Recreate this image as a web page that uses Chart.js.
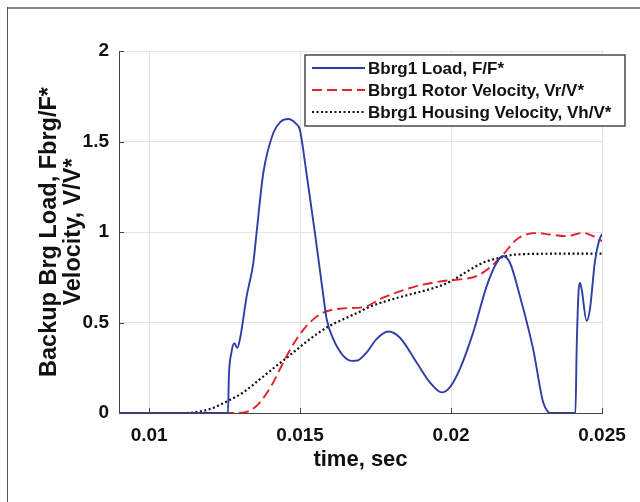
<!DOCTYPE html>
<html>
<head>
<meta charset="utf-8">
<script src="https://cdn.jsdelivr.net/npm/chart.js@4.4.0/dist/chart.umd.min.js"></script>
<style>
  html, body { margin: 0; padding: 0; background: #fff; }
  #wrap { position: relative; width: 640px; height: 502px; }
</style>
</head>
<body>
<div id="wrap"><canvas id="chart" width="640" height="502"></canvas></div>
<script>
// axis ticks
const xTicks = [0.01, 0.015, 0.02, 0.025];
const yTicks = [0, 0.5, 1, 1.5, 2];

const seriesNames = [
  "Bbrg1 Load, F/F*",
  "Bbrg1 Rotor Velocity, Vr/V*",
  "Bbrg1 Housing Velocity, Vh/V*"
];

// Bbrg1 load, F/F*
const loadTime = [0.009, 0.01261, 0.01264, 0.01272, 0.01282, 0.01292, 0.01302, 0.01323, 0.01345, 0.01356,
  0.01378, 0.01411, 0.01436, 0.01461, 0.01485, 0.01499, 0.01521, 0.01549, 0.01577, 0.01588,
  0.0161, 0.01643, 0.01672, 0.0169, 0.0172, 0.01753, 0.01792, 0.0183, 0.01886, 0.0193,
  0.01969, 0.01996, 0.02029, 0.02073, 0.02118, 0.02151, 0.02171, 0.02195, 0.02228, 0.02272,
  0.02305, 0.02322, 0.0233, 0.02412, 0.02416, 0.02422, 0.02427, 0.02433, 0.02449, 0.0246,
  0.02476, 0.0249, 0.025];
const loadValue = [0, 0, 0.2, 0.33, 0.385, 0.36, 0.42, 0.646, 0.83, 1.0,
  1.326, 1.547, 1.61, 1.624, 1.6, 1.565, 1.326, 0.995, 0.646, 0.518,
  0.408, 0.316, 0.288, 0.29, 0.334, 0.408, 0.45, 0.417, 0.279, 0.169,
  0.114, 0.142, 0.242, 0.444, 0.701, 0.83, 0.867, 0.83, 0.646, 0.353,
  0.059, 0.005, 0, 0, 0.35, 0.66, 0.72, 0.68, 0.509, 0.573,
  0.83, 0.95, 0.99];

// Bbrg1 rotor velocity, Vr/V*
const rotorTime = [0.009, 0.0129, 0.01334, 0.01367, 0.01411, 0.01444, 0.01488, 0.01532, 0.01577, 0.01643,
  0.0171, 0.01775, 0.01886, 0.01974, 0.02029, 0.02084, 0.02128, 0.02173, 0.02217, 0.02283,
  0.02327, 0.02382, 0.02437, 0.0247, 0.025];
const rotorValue = [0, 0, 0.013, 0.059, 0.169, 0.279, 0.408, 0.5, 0.555, 0.578,
  0.585, 0.637, 0.701, 0.729, 0.738, 0.756, 0.803, 0.876, 0.959, 0.995,
  0.986, 0.977, 0.995, 0.977, 0.95];

// Bbrg1 housing velocity, Vh/V*
const housingTime = [0.009, 0.0112, 0.01146, 0.01201, 0.01262, 0.01312, 0.01367, 0.01422, 0.01477, 0.01532,
  0.01588, 0.01643, 0.01698, 0.0172, 0.0183, 0.01941, 0.01996, 0.02051, 0.02106, 0.02162,
  0.02217, 0.0235, 0.025];
const housingValue = [0, 0, 0.003, 0.022, 0.068, 0.114, 0.187, 0.261, 0.334, 0.408,
  0.472, 0.518, 0.56, 0.58, 0.64, 0.69, 0.725, 0.78, 0.83, 0.858,
  0.876, 0.88, 0.88];

const toPoints = (ts, vs) => ts.map((t, i) => ({x: t, y: vs[i]}));

const FONT = "'Liberation Sans', Arial, sans-serif";

// MATLAB-ish frame, inward ticks and legend box
const matlabLook = {
  id: "matlabLook",
  beforeDraw(chart) {
    const ctx = chart.ctx;
    ctx.save();
    ctx.fillStyle = "#fff";
    ctx.fillRect(0, 0, chart.width, chart.height);
    ctx.fillStyle = "#8c8c8c";
    ctx.fillRect(7, 7, chart.width - 7, 2);
    ctx.fillStyle = "#555";
    ctx.fillRect(7, 7, 1, chart.height - 7);
    ctx.restore();
  },
  afterDatasetsDraw(chart) {
    const ctx = chart.ctx;
    const a = chart.chartArea;
    const xs = chart.scales.x, ys = chart.scales.y;
    ctx.save();
    ctx.strokeStyle = "#444";
    ctx.lineWidth = 1;
    ctx.beginPath();
    xTicks.forEach(v => {
      const px = Math.round(xs.getPixelForValue(v)) + 0.5;
      ctx.moveTo(px, a.bottom);
      ctx.lineTo(px, a.bottom - 5);
    });
    yTicks.forEach(v => {
      const py = Math.round(ys.getPixelForValue(v)) + 0.5;
      ctx.moveTo(a.left, py);
      ctx.lineTo(a.left + 5, py);
    });
    ctx.stroke();

    // legend
    const bx = 305, by = 55, bw = 320, bh = 71;
    ctx.fillStyle = "#fff";
    ctx.fillRect(bx, by, bw, bh);
    ctx.strokeStyle = "#4a4a4a";
    ctx.lineWidth = 1.5;
    ctx.strokeRect(bx, by, bw, bh);
    chart.data.datasets.forEach((ds, i) => {
      const y = 68 + i * 22;
      ctx.strokeStyle = ds.borderColor;
      ctx.lineWidth = ds.borderWidth;
      ctx.setLineDash(ds.borderDash || []);
      ctx.beginPath();
      ctx.moveTo(312, y);
      ctx.lineTo(365, y);
      ctx.stroke();
      ctx.setLineDash([]);
      ctx.fillStyle = "#111";
      ctx.font = "bold 17px " + FONT;
      ctx.textBaseline = "middle";
      ctx.textAlign = "left";
      ctx.fillText(ds.label, 368, y + 1);
    });
    ctx.restore();
  }
};

new Chart(document.getElementById("chart"), {
  type: "line",
  data: {
    datasets: [
      {
        label: seriesNames[0],
        data: toPoints(loadTime, loadValue),
        borderColor: "#2f3ea6",
        borderWidth: 1.9,
        cubicInterpolationMode: "monotone"
      },
      {
        label: seriesNames[1],
        data: toPoints(rotorTime, rotorValue),
        borderColor: "#e0232a",
        borderWidth: 1.9,
        borderDash: [10, 5],
        cubicInterpolationMode: "monotone"
      },
      {
        label: seriesNames[2],
        data: toPoints(housingTime, housingValue),
        borderColor: "#111",
        borderWidth: 2.2,
        borderDash: [2, 2.5],
        cubicInterpolationMode: "monotone"
      }
    ]
  },
  options: {
    responsive: false,
    animation: false,
    events: [],
    elements: { point: { radius: 0 } },
    layout: { padding: { left: 38, top: 51, right: 38, bottom: 31 } },
    plugins: { legend: { display: false }, tooltip: { enabled: false } },
    scales: {
      x: {
        type: "linear",
        min: 0.009,
        max: 0.025,
        afterBuildTicks: s => { s.ticks = xTicks.map(v => ({value: v})); },
        afterFit: s => { s.height = 58; },
        grid: { color: "#e3e3e3", drawTicks: false },
        border: { color: "#444", width: 1 },
        ticks: {
          padding: 11,
          color: "#111",
          font: { family: FONT, size: 19, weight: "bold" },
          maxRotation: 0,
          callback: v => String(v)
        },
        title: {
          display: true,
          text: "time, sec",
          color: "#111",
          padding: 0,
          font: { family: FONT, size: 22, weight: "bold", lineHeight: 1.05 }
        }
      },
      y: {
        min: 0,
        max: 2,
        afterBuildTicks: s => { s.ticks = yTicks.map(v => ({value: v})); },
        afterFit: s => { s.width = 81; },
        grid: { color: "#e3e3e3", drawTicks: false },
        border: { color: "#444", width: 1 },
        ticks: {
          padding: 10,
          color: "#111",
          font: { family: FONT, size: 19, weight: "bold" },
          callback: v => String(v)
        },
        title: {
          display: true,
          text: ["Backup Brg Load, Fbrg/F*", "Velocity, V/V*"],
          color: "#111",
          padding: 0,
          font: { family: FONT, size: 23.5, weight: "bold", lineHeight: 1 }
        }
      }
    }
  },
  plugins: [matlabLook]
});
</script>
</body>
</html>
